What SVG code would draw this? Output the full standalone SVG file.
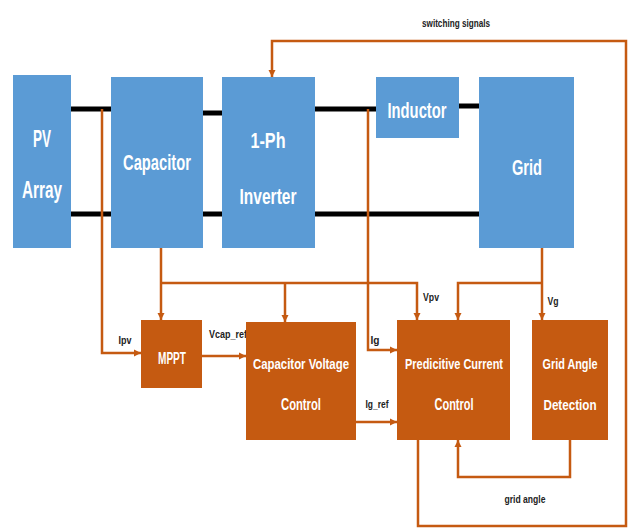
<svg xmlns="http://www.w3.org/2000/svg" width="633" height="530" viewBox="0 0 633 530">
<style>
.blue{fill:#5B9BD5}
.org{fill:#C55A11}
.bt{font-family:"Liberation Sans",Arial,sans-serif;font-weight:bold;fill:#fff;text-anchor:middle}
.lbl{font-family:"Liberation Sans",Arial,sans-serif;font-size:11px;fill:#222;font-weight:bold}
.pw{stroke:#000;stroke-width:5;fill:none}
.sig{stroke:#C55A11;stroke-width:2.5;fill:none}
</style>
<defs>
<marker id="ah" markerWidth="8" markerHeight="8" refX="7" refY="4" orient="auto" markerUnits="userSpaceOnUse">
<path d="M0,0.5 L7,4 L0,7.5 z" fill="#C55A11"/>
</marker>
</defs>
<rect width="633" height="530" fill="#fff"/>
<g id="connectors">
<line class="pw" x1="71" y1="109" x2="111" y2="109"/>
<line class="pw" x1="71" y1="214" x2="111" y2="214"/>
<line class="pw" x1="203" y1="113" x2="222" y2="113"/>
<line class="pw" x1="203" y1="214" x2="222" y2="214"/>
<line class="pw" x1="315" y1="109" x2="376" y2="109"/>
<line class="pw" x1="459" y1="106" x2="479" y2="106"/>
<line class="pw" x1="315" y1="214" x2="479" y2="214"/>
<path class="sig" d="M102,109 V353 H141" marker-end="url(#ah)"/>
<path class="sig" d="M161,248 V320" marker-end="url(#ah)"/>
<path class="sig" d="M161,283 H417 V320" marker-end="url(#ah)"/>
<path class="sig" d="M285,283 V322" marker-end="url(#ah)"/>
<path class="sig" d="M202,356 H246" marker-end="url(#ah)"/>
<path class="sig" d="M356,422 H397" marker-end="url(#ah)"/>
<path class="sig" d="M368,109 V350 H397" marker-end="url(#ah)"/>
<path class="sig" d="M542,248 V320" marker-end="url(#ah)"/>
<path class="sig" d="M542,283 H458 V320" marker-end="url(#ah)"/>
<path class="sig" d="M570,440 V477 H458 V440" marker-end="url(#ah)"/>
<path class="sig" d="M418,440 V526 H626 V41 H272 V77" marker-end="url(#ah)"/>
<text class="lbl" x="456" y="27" text-anchor="middle" textLength="68" lengthAdjust="spacingAndGlyphs">switching signals</text>
<text class="lbl" x="125" y="344" text-anchor="middle" textLength="13" lengthAdjust="spacingAndGlyphs">Ipv</text>
<text class="lbl" x="228" y="338" text-anchor="middle" textLength="38" lengthAdjust="spacingAndGlyphs">Vcap_ref</text>
<text class="lbl" x="431" y="301" text-anchor="middle" textLength="16" lengthAdjust="spacingAndGlyphs">Vpv</text>
<text class="lbl" x="375" y="344" text-anchor="middle" textLength="9" lengthAdjust="spacingAndGlyphs">Ig</text>
<text class="lbl" x="553" y="305" text-anchor="middle" textLength="11" lengthAdjust="spacingAndGlyphs">Vg</text>
<text class="lbl" x="377" y="408" text-anchor="middle" textLength="23" lengthAdjust="spacingAndGlyphs">Ig_ref</text>
<text class="lbl" x="525" y="503" text-anchor="middle" textLength="41" lengthAdjust="spacingAndGlyphs">grid angle</text>
</g>
<g id="pv-array">
<rect class="blue" x="13" y="75" width="58" height="173"/>
<text class="bt" x="42" y="147" font-size="24" textLength="18" lengthAdjust="spacingAndGlyphs">PV</text>
<text class="bt" x="42" y="198" font-size="24" textLength="40" lengthAdjust="spacingAndGlyphs">Array</text>
</g>
<g id="capacitor">
<rect class="blue" x="111" y="77" width="92" height="171"/>
<text class="bt" x="157" y="170" font-size="22" textLength="68" lengthAdjust="spacingAndGlyphs">Capacitor</text>
</g>
<g id="inverter">
<rect class="blue" x="222" y="77" width="93" height="171"/>
<text class="bt" x="268" y="148" font-size="22" textLength="35" lengthAdjust="spacingAndGlyphs">1-Ph</text>
<text class="bt" x="268" y="204" font-size="22" textLength="57" lengthAdjust="spacingAndGlyphs">Inverter</text>
</g>
<g id="inductor">
<rect class="blue" x="376" y="77" width="83" height="61"/>
<text class="bt" x="417" y="118" font-size="22" textLength="59" lengthAdjust="spacingAndGlyphs">Inductor</text>
</g>
<g id="grid">
<rect class="blue" x="479" y="77" width="95" height="171"/>
<text class="bt" x="527" y="175" font-size="22" textLength="30" lengthAdjust="spacingAndGlyphs">Grid</text>
</g>
<g id="mppt">
<rect class="org" x="141" y="320" width="61" height="68"/>
<text class="bt" x="172" y="364" font-size="16" textLength="28" lengthAdjust="spacingAndGlyphs">MPPT</text>
</g>
<g id="cap-voltage-control">
<rect class="org" x="246" y="322" width="110" height="118"/>
<text class="bt" x="301" y="369" font-size="15" textLength="96" lengthAdjust="spacingAndGlyphs">Capacitor Voltage</text>
<text class="bt" x="301" y="410" font-size="16" textLength="40" lengthAdjust="spacingAndGlyphs">Control</text>
</g>
<g id="predictive-current-control">
<rect class="org" x="397" y="320" width="113" height="120"/>
<text class="bt" x="454" y="369" font-size="14" textLength="98" lengthAdjust="spacingAndGlyphs">Predicitive Current</text>
<text class="bt" x="454" y="410" font-size="16" textLength="39" lengthAdjust="spacingAndGlyphs">Control</text>
</g>
<g id="grid-angle-detection">
<rect class="org" x="532" y="320" width="76" height="120"/>
<text class="bt" x="570" y="369" font-size="14" textLength="55" lengthAdjust="spacingAndGlyphs">Grid Angle</text>
<text class="bt" x="570" y="410" font-size="15" textLength="53" lengthAdjust="spacingAndGlyphs">Detection</text>
</g>
</svg>
